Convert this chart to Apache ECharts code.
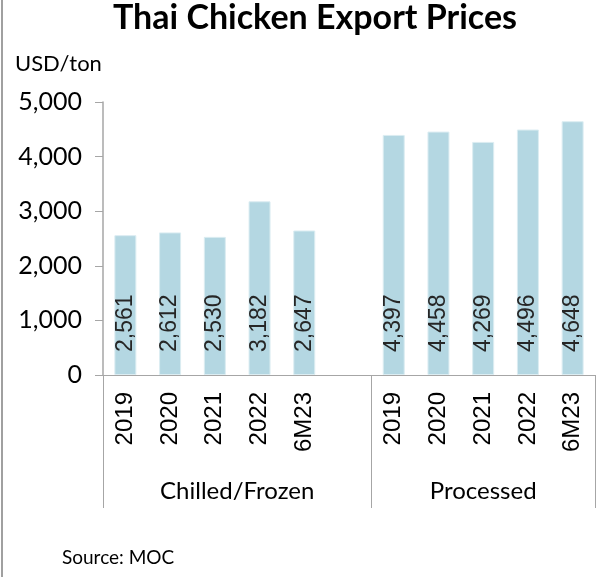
<!DOCTYPE html>
<html>
<head>
<meta charset="utf-8">
<script src="https://cdn.jsdelivr.net/npm/echarts@6/dist/echarts.min.js"></script>
<style>
  html, body { margin: 0; padding: 0; background: #fff; }
  #chart { width: 615px; height: 577px; }
</style>
</head>
<body>
<div id="chart"></div>
<script>
// 数据
const years = ['2019', '2020', '2021', '2022', '6M23']
const groups = ['Chilled/Frozen', 'Processed']
const chilled = [2561, 2612, 2530, 3182, 2647]
const processed = [4397, 4458, 4269, 4496, 4648]
const yTicks = [0, 1000, 2000, 3000, 4000, 5000]

// 一个空位把两组隔开
const categories = years.concat([''], years)
const values = chilled.concat([null], processed)

const fmt = v => v.toLocaleString('en-US')
const axisGray = '#A6A6A6'

const chart = echarts.init(document.getElementById('chart'))

const option = {
  animation: false,
  grid: { left: 103, right: 20, top: 102, bottom: 202 },
  graphic: [
    { type: 'rect', shape: { x: 1, y: 0, width: 2, height: 577 }, style: { fill: '#A0A0A0' } },
    {
      type: 'text', left: 113, top: 1,
      style: { text: 'Thai Chicken Export Prices', font: 'bold 34px Lato', fill: '#000' }
    },
    { type: 'text', left: 15, top: 53, style: { text: 'USD/ton', font: '22px Lato', fill: '#000' } },
    { type: 'text', left: 62, top: 548, style: { text: 'Source: MOC', font: '19px Lato', fill: '#000' } }
  ],
  xAxis: [
    {
      type: 'category',
      data: categories,
      axisLine: { lineStyle: { color: axisGray, width: 1 } },
      axisTick: { length: 82, lineStyle: { color: axisGray } },
      axisLabel: {
        interval: 0, rotate: 90, margin: 17,
        fontFamily: 'Liberation Sans', fontSize: 24, color: '#000'
      }
    },
    {
      type: 'value',
      position: 'bottom',
      min: 0, max: 11,
      axisLine: { show: false },
      splitLine: { show: false },
      axisTick: { show: true, length: 133, customValues: [0, 6, 11], lineStyle: { color: axisGray } },
      axisLabel: {
        customValues: [3, 8.5],
        formatter: v => (v < 6 ? groups[0] : groups[1]),
        margin: 116, verticalAlign: 'middle',
        fontFamily: 'Lato', fontSize: 24, color: '#000'
      }
    }
  ],
  yAxis: {
    type: 'value',
    min: yTicks[0], max: yTicks[yTicks.length - 1], interval: 1000,
    axisLine: { show: true, lineStyle: { color: axisGray, width: 1.5 } },
    axisTick: { show: true, length: 8, lineStyle: { color: axisGray } },
    splitLine: { show: false },
    axisLabel: { formatter: fmt, margin: 21, fontFamily: 'Lato', fontSize: 25, color: '#000' }
  },
  series: [
    {
      type: 'bar',
      data: values,
      barWidth: 22,
      itemStyle: { color: '#B4D7E2', borderColor: '#DCEDF2', borderWidth: 1 },
      label: {
        show: true,
        position: 'insideBottom',
        rotate: 90,
        align: 'left',
        verticalAlign: 'middle',
        distance: 23,
        fontFamily: 'Liberation Sans',
        fontSize: 23,
        color: '#262626',
        formatter: p => fmt(p.value)
      }
    }
  ]
}

chart.setOption(option)
</script>
</body>
</html>
